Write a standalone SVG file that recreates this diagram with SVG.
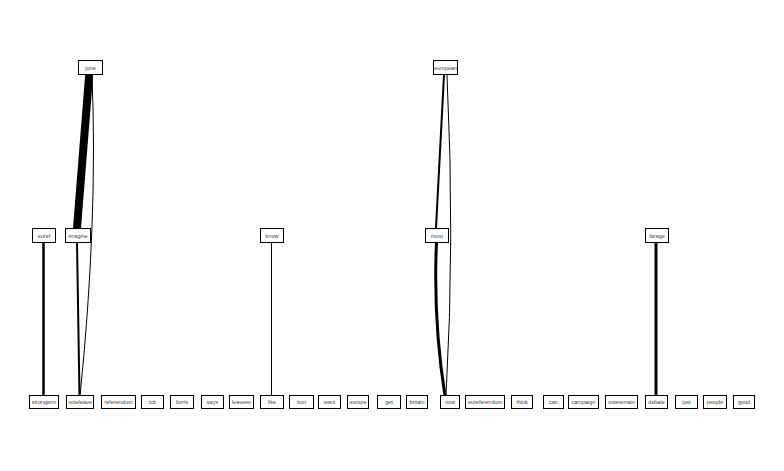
<svg xmlns="http://www.w3.org/2000/svg" width="784" height="471" viewBox="0 0 784 471">
<style>
.n rect{fill:#fff;stroke:#000;stroke-width:1}
.n text{font-family:"Liberation Sans",Arial,sans-serif;font-size:5.5px;fill:#444;text-anchor:middle}
.e path{fill:none;stroke:#000;stroke-linecap:round}
</style>
<rect width="784" height="471" fill="#fff"/>
<g id="edges" class="e">
<path d="M89 77 L77 228" stroke-width="8"/>
<path d="M92 75 Q98 220 80 396" stroke-width="1"/>
<path d="M77 242 L79.5 396" stroke-width="2"/>
<path d="M43.5 242 L43.5 396" stroke-width="2.5"/>
<path d="M271.5 242 L271.5 396" stroke-width="1"/>
<path d="M444 75 L436 228" stroke-width="2"/>
<path d="M447 75 Q455 240 446 396" stroke-width="1"/>
<path d="M436.5 242 Q433 320 445 396" stroke-width="3"/>
<path d="M656 242 L656 396" stroke-width="3"/>
</g>
<g id="june" class="n"><rect x="78.5" y="60.5" width="24" height="14"/><text x="90.5" y="69.5">june</text></g>
<g id="european" class="n"><rect x="433.5" y="60.5" width="24" height="14"/><text x="445.5" y="69.5">european</text></g>
<g id="euref" class="n"><rect x="32.5" y="228.5" width="23" height="14"/><text x="44" y="237.5">euref</text></g>
<g id="imagine" class="n"><rect x="65.5" y="228.5" width="25" height="14"/><text x="78" y="237.5">imagine</text></g>
<g id="know" class="n"><rect x="260.5" y="228.5" width="23" height="14"/><text x="272" y="237.5">know</text></g>
<g id="must" class="n"><rect x="425.5" y="228.5" width="23" height="14"/><text x="437" y="237.5">must</text></g>
<g id="farage" class="n"><rect x="645.5" y="228.5" width="23" height="14"/><text x="657" y="237.5">farage</text></g>
<g id="strongerin" class="n"><rect x="29.5" y="395.5" width="29" height="13"/><text x="44" y="404">strongerin</text></g>
<g id="voteleave" class="n"><rect x="66.5" y="395.5" width="27" height="13"/><text x="80" y="404">voteleave</text></g>
<g id="referendum" class="n"><rect x="101.5" y="395.5" width="34" height="13"/><text x="118.5" y="404">referendum</text></g>
<g id="tcb" class="n"><rect x="141.5" y="395.5" width="22" height="13"/><text x="152.5" y="404">tcb</text></g>
<g id="boris" class="n"><rect x="170.5" y="395.5" width="23" height="13"/><text x="182" y="404">boris</text></g>
<g id="says" class="n"><rect x="201.5" y="395.5" width="22" height="13"/><text x="212.5" y="404">says</text></g>
<g id="leaveeu" class="n"><rect x="229.5" y="395.5" width="24" height="13"/><text x="241.5" y="404">leaveeu</text></g>
<g id="like" class="n"><rect x="260.5" y="395.5" width="23" height="13"/><text x="272" y="404">like</text></g>
<g id="tcot" class="n"><rect x="289.5" y="395.5" width="24" height="13"/><text x="301.5" y="404">tcot</text></g>
<g id="want" class="n"><rect x="318.5" y="395.5" width="22" height="13"/><text x="329.5" y="404">want</text></g>
<g id="europe" class="n"><rect x="347.5" y="395.5" width="21" height="13"/><text x="358" y="404">europe</text></g>
<g id="get" class="n"><rect x="377.5" y="395.5" width="23" height="13"/><text x="389" y="404">get</text></g>
<g id="britain" class="n"><rect x="406.5" y="395.5" width="21" height="13"/><text x="417" y="404">britain</text></g>
<g id="now" class="n"><rect x="440.5" y="395.5" width="19" height="13"/><text x="450" y="404">now</text></g>
<g id="eureferendum" class="n"><rect x="465.5" y="395.5" width="39" height="13"/><text x="485" y="404">eureferendum</text></g>
<g id="think" class="n"><rect x="511.5" y="395.5" width="21" height="13"/><text x="522" y="404">think</text></g>
<g id="can" class="n"><rect x="543.5" y="395.5" width="20" height="13"/><text x="553.5" y="404">can</text></g>
<g id="campaign" class="n"><rect x="568.5" y="395.5" width="30" height="13"/><text x="583.5" y="404">campaign</text></g>
<g id="voteremain" class="n"><rect x="605.5" y="395.5" width="32" height="13"/><text x="621.5" y="404">voteremain</text></g>
<g id="debate" class="n"><rect x="645.5" y="395.5" width="22" height="13"/><text x="656.5" y="404">debate</text></g>
<g id="just" class="n"><rect x="675.5" y="395.5" width="22" height="13"/><text x="686.5" y="404">just</text></g>
<g id="people" class="n"><rect x="703.5" y="395.5" width="23" height="13"/><text x="715" y="404">people</text></g>
<g id="good" class="n"><rect x="733.5" y="395.5" width="21" height="13"/><text x="744" y="404">good</text></g>
</svg>
